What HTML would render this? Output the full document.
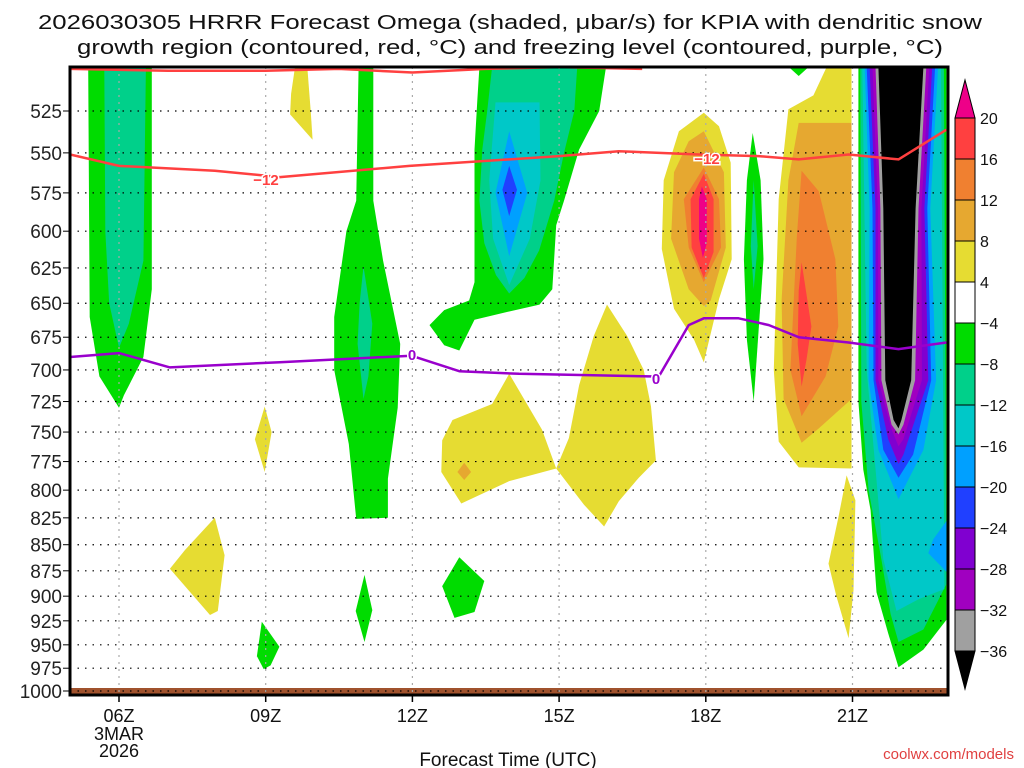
<!DOCTYPE html>
<html><head><meta charset="utf-8"><style>
html,body{margin:0;padding:0;background:#fff;}
svg{display:block;font-family:"Liberation Sans",sans-serif;}
</style></head><body>
<svg id="chart" width="1024" height="768" viewBox="0 0 1024 768" xmlns="http://www.w3.org/2000/svg">
<text x="510" y="29" font-size="20" text-anchor="middle" textLength="944" lengthAdjust="spacingAndGlyphs" fill="#111">2026030305 HRRR Forecast Omega (shaded, μbar/s) for KPIA with dendritic snow</text>
<text x="510" y="54" font-size="20" text-anchor="middle" textLength="866" lengthAdjust="spacingAndGlyphs" fill="#111">growth region (contoured, red, °C) and freezing level (contoured, purple, °C)</text>
<g id="shapes"></g>
<g id="grid"></g>
<g id="lines"></g>
<g id="axes"></g>
<g id="cbar"></g>
<text x="508" y="766" font-size="19" text-anchor="middle" fill="#111">Forecast Time (UTC)</text>
<text x="1014" y="759" font-size="15" text-anchor="end" fill="#e04040">coolwx.com/models</text>
</svg>
<script>
const levelColors = ['#a0a0a0','#a000c0','#8000d0','#2040ff','#00a0ff','#00c8c8','#00d08a','#00dc00','#ffffff','#e6dc32','#e6a830','#f08030','#ff4040','#ee0088'];
const levelBounds = [-36,-32,-28,-24,-20,-16,-12,-8,-4,4,8,12,16,20];
const pressureTicks = [525,550,575,600,625,650,675,700,725,750,775,800,825,850,875,900,925,950,975,1000];
const hourTicks = [6,9,12,15,18,21];
const hourLabels = ['06Z','09Z','12Z','15Z','18Z','21Z'];
const shapes = [
 ['#00dc00',[[5.37,500],[6.67,500],[6.67,640],[6.5,690],[6.1,720],[6.0,730],[5.6,705],[5.4,660]]],
 ['#00d08a',[[5.7,500],[6.55,500],[6.5,620],[6.2,665],[6.0,683],[5.8,650],[5.72,600]]],
 ['#00dc00',[[10.9,500],[11.2,500],[11.2,580],[11.4,620],[11.75,680],[11.7,730],[11.5,790],[11.5,825],[10.85,826],[10.7,760],[10.4,700],[10.4,660],[10.65,600],[10.85,580]]],
 ['#00d08a',[[11.0,624],[11.18,665],[11.1,705],[11.0,723],[10.88,680],[10.92,650]]],
 ['#00dc00',[[13.37,500],[15.96,500],[15.82,525],[15.41,548],[15.1,580],[14.94,596],[14.86,640],[14.6,651],[13.98,656],[13.27,662],[12.96,685],[12.65,681],[12.35,666],[12.65,655],[13.16,648],[13.27,635],[13.27,548],[13.33,518]]],
 ['#00d08a',[[13.63,500],[15.37,500],[15.31,525],[15.1,550],[14.9,580],[14.59,613],[14.29,632],[13.98,643],[13.71,630],[13.47,608],[13.37,580],[13.43,548],[13.53,525]]],
 ['#00c8c8',[[13.7,520],[14.6,520],[14.62,567],[14.4,605],[13.98,637],[13.65,605],[13.57,567]]],
 ['#00a0ff',[[13.98,537],[14.35,575],[13.98,617],[13.7,575]]],
 ['#2040ff',[[13.98,558],[14.14,573],[13.98,590],[13.84,573]]],
 ['#e6dc32',[[9.6,500],[9.85,500],[9.92,525],[9.96,542],[9.5,527],[9.52,515]]],
 ['#e6dc32',[[13.98,703],[14.65,748],[14.94,781],[13.98,792],[13.0,812],[12.59,784],[12.61,757],[12.82,740],[13.63,727]]],
 ['#e6a830',[[13.06,776],[13.2,784],[13.06,791],[12.92,784]]],
 ['#e6dc32',[[15.98,651],[16.39,674],[16.73,700],[16.88,729],[16.98,774],[16.63,789],[16.22,810],[15.92,833],[15.51,813],[14.94,781],[15.2,755],[15.41,712],[15.71,674]]],
 ['#e6dc32',[[7.96,825],[8.16,860],[8.02,915],[7.86,919],[7.04,873],[7.35,855]]],
 ['#e6dc32',[[8.98,729],[9.12,750],[8.98,784],[8.78,756]]],
 ['#00dc00',[[8.92,926],[9.28,952],[9.1,972],[8.96,976],[8.82,962]]],
 ['#00dc00',[[11.02,879],[11.18,914],[11.02,947],[10.84,915]]],
 ['#00dc00',[[12.96,862],[13.47,885],[13.27,916],[12.86,922],[12.61,890]]],
 ['#e6dc32',[[17.96,526],[18.27,534],[18.51,556],[18.53,619],[18.27,647],[17.96,694],[17.76,677],[17.35,654],[17.1,612],[17.14,567],[17.45,537]]],
 ['#e6a830',[[17.96,537],[18.37,562],[18.41,611],[18.1,648],[17.96,652],[17.65,640],[17.29,605],[17.35,562],[17.65,543]]],
 ['#f08030',[[17.96,559],[18.27,579],[18.31,611],[17.96,635],[17.65,611],[17.55,579]]],
 ['#ff4040',[[17.96,563],[18.16,579],[18.16,614],[17.96,632],[17.71,611],[17.69,579]]],
 ['#ee0088',[[17.92,571],[18.02,579],[18.02,608],[17.94,618],[17.86,605],[17.86,579]]],
 ['#00dc00',[[18.96,538],[19.12,567],[19.18,619],[19.08,670],[18.98,725],[18.84,677],[18.78,619],[18.84,567]]],
 ['#00d08a',[[18.98,567],[19.06,610],[18.98,640],[18.92,610]]],
 ['#e6dc32',[[20.47,500],[20.98,500],[20.98,781],[19.9,780],[19.49,758],[19.39,700],[19.49,579],[19.69,524],[20.2,516]]],
 ['#00dc00',[[19.7,500],[20.1,500],[19.9,505]]],
 ['#e6a830',[[19.9,532],[20.98,532],[20.98,723],[20.31,747],[19.96,759],[19.59,723],[19.55,648],[19.69,567]]],
 ['#f08030',[[19.96,561],[20.31,574],[20.65,619],[20.71,667],[20.45,705],[19.96,737],[19.73,700],[19.86,604]]],
 ['#ff4040',[[19.96,621],[20.16,667],[20.06,692],[19.96,713],[19.88,680],[19.9,641]]],
 ['#e6dc32',[[20.88,787],[21.06,809],[21.02,894],[20.92,943],[20.67,900],[20.51,868],[20.71,825]]],
 ['#00dc00',[[21.12,500],[22.92,500],[22.92,924],[22.45,955],[21.94,974],[21.73,938],[21.49,896],[21.37,818],[21.22,782],[21.12,725]]],
 ['#00d08a',[[21.16,500],[22.87,500],[22.92,888],[22.45,934],[21.94,947],[21.78,918],[21.59,864],[21.33,800],[21.18,725]]],
 ['#00c8c8',[[21.2,500],[22.81,500],[22.88,893],[22.35,903],[21.9,915],[21.63,864],[21.49,791],[21.29,700]]],
 ['#00a0ff',[[22.92,828],[22.65,845],[22.55,858],[22.92,876]]],
 ['#00a0ff',[[21.25,500],[22.75,500],[22.59,585],[22.71,708],[22.45,765],[21.94,808],[21.53,765],[21.33,708],[21.35,585]]],
 ['#2040ff',[[21.29,500],[22.69,500],[22.53,585],[22.61,708],[22.24,769],[21.94,789],[21.63,765],[21.43,708],[21.41,585]]],
 ['#8000d0',[[21.35,500],[22.63,500],[22.47,585],[22.55,708],[22.04,769],[21.94,777],[21.73,756],[21.47,708],[21.47,585]]],
 ['#a000c0',[[21.41,500],[22.57,500],[22.41,585],[22.42,708],[22.04,756],[21.94,762],[21.8,748],[21.53,708],[21.52,585]]],
 ['#a0a0a0',[[21.47,500],[22.51,500],[22.35,585],[22.28,708],[22.04,744],[21.94,752],[21.8,744],[21.59,708],[21.57,585]]],
 ['#000000',[[21.53,500],[22.45,500],[22.29,585],[22.2,708],[22.0,740],[21.94,747],[21.84,740],[21.67,708],[21.63,585]]]
];
const redTopHours = [5,7,9,10.5,12,13.5,15,16.7];
const redTopPres = [501,502,502,501,503,501,500,501];
const redHours = [5.0,6,7.96,9.29,11.94,15.0,16.22,17.86,19.08,19.9,20.92,21.94,22.92];
const redPres = [551,558,561,565,558,552,549,551,552,554,551,554,536];
const frzHours = [5,6,7.04,9.29,11.98,12.96,14.18,16.84,17.04,17.65,17.96,18.67,19.29,19.9,20.92,21.94,22.92];
const frzPres = [690,687,698,694,689,701,703,705,705,666,661,661,666,675,679,684,679];

const X0=70,X1=948,Y0=67,Y1=695;
const xs = h => 119 + (h-6)*48.9;
const ys = p => 691 - Math.log(1000/p)/Math.log(1000/525)*580;
const NS='http://www.w3.org/2000/svg';
function mk(tag, attrs, parent){const e=document.createElementNS(NS,tag);for(const k in attrs)e.setAttribute(k,attrs[k]);parent.appendChild(e);return e;}

const gS=document.getElementById('shapes');
const clip=mk('clipPath',{id:'pc'},document.getElementById('chart'));
mk('rect',{x:X0,y:Y0,width:X1-X0,height:Y1-Y0},clip);
gS.setAttribute('clip-path','url(#pc)');
shapes.forEach((s,i)=>{
  const pts=s[1].map(q=>xs(q[0]).toFixed(1)+','+ys(q[1]).toFixed(1)).join(' ');
  const el=mk('polygon',{points:pts,fill:s[0]},gS);
  
  
});
const ground=mk('rect',{x:X0,y:688,width:X1-X0,height:7,fill:'#a0522d'},gS);



const gG=document.getElementById('grid');
pressureTicks.forEach(p=>{
  const y=ys(p);
  const l=mk('line',{x1:X0,x2:X1,y1:y,y2:y,stroke:'#000','stroke-width':1.2,'stroke-dasharray':'1.5,6'},gG);
  
  
});
hourTicks.forEach(h=>{
  const x=xs(h);
  const l=mk('line',{x1:x,x2:x,y1:Y0,y2:Y1,stroke:'#aaa','stroke-width':1.2,'stroke-dasharray':'2,5'},gG);
  
  
});

const gL=document.getElementById('lines');
gL.setAttribute('clip-path','url(#pc)');
function line(hs,ps,col,name){
  const d=hs.map((h,i)=>(i?'L':'M')+xs(h).toFixed(1)+','+ys(ps[i]).toFixed(1)).join(' ');
  const el=mk('path',{d:d,fill:'none',stroke:col,'stroke-width':2.5,'stroke-linejoin':'round'},gL);
  
  
}
line(redTopHours,redTopPres,'#ff4040','dgz-upper-contour');
line(redHours,redPres,'#ff4040','dgz-lower-contour');
line(frzHours,frzPres,'#9900cc','freezing-level-contour');
function lab(x,y,t,col,name){
  const el=mk('text',{x:x,y:y+6,'font-size':15,'font-weight':'bold','text-anchor':'middle',fill:col,stroke:'#fff','stroke-width':3,'paint-order':'stroke'},gL);
  el.textContent=t;
  
  
}
lab(266,179,'−12','#ff4040','dgz-label');
lab(707,158,'−12','#ff4040','dgz-label');
lab(412,354,'0','#9900cc','freezing-label');
lab(656,378,'0','#9900cc','freezing-label');

const gA=document.getElementById('axes');
const fr=mk('rect',{x:X0,y:Y0,width:X1-X0,height:Y1-Y0,fill:'none',stroke:'#000','stroke-width':3},gA);


pressureTicks.forEach(p=>{
  const y=ys(p);
  mk('line',{x1:X0-7,x2:X0,y1:y,y2:y,stroke:'#000','stroke-width':1},gA);
  const t=mk('text',{x:62,y:y+7,'font-size':19,'text-anchor':'end',fill:'#222'},gA);
  t.textContent=p;
  
  
});
hourTicks.forEach((h,i)=>{
  const x=xs(h);
  mk('line',{x1:x,x2:x,y1:Y1,y2:Y1+7,stroke:'#000','stroke-width':1.5},gA);
  const t=mk('text',{x:x,y:722,'font-size':18,'text-anchor':'middle',fill:'#111'},gA);
  t.textContent=hourLabels[i];
  
  
});
[['3MAR',740],['2026',757]].forEach(a=>{
  const t=mk('text',{x:xs(6),y:a[1],'font-size':18,'text-anchor':'middle',fill:'#111'},gA);
  t.textContent=a[0];
  
  
});

const gC=document.getElementById('cbar');
const CX=955,CW=20,CT=118,CB=651;
const seg=(CB-CT)/(levelBounds.length-1);
const cyi=i=>CB-i*seg;
const cbTop=mk('polygon',{points:`${CX},${CT} ${CX+CW},${CT} ${CX+CW/2},${CT-38}`,fill:levelColors[13],stroke:'#000','stroke-width':1},gC);


const cbBot=mk('polygon',{points:`${CX},${CB} ${CX+CW},${CB} ${CX+CW/2},${CB+38}`,fill:'#000',stroke:'#000','stroke-width':1},gC);


for(let i=0;i<levelBounds.length-1;i++){
  const r=mk('rect',{x:CX,y:cyi(i+1),width:CW,height:seg,fill:levelColors[i],stroke:'#000','stroke-width':1},gC);
  
  
}
levelBounds.forEach((v,i)=>{
  const t=mk('text',{x:980,y:cyi(i)+6,'font-size':16,fill:'#111'},gC);
  t.textContent=v<0?'−'+(-v):String(v);
  
  
});
</script>
</body></html>
